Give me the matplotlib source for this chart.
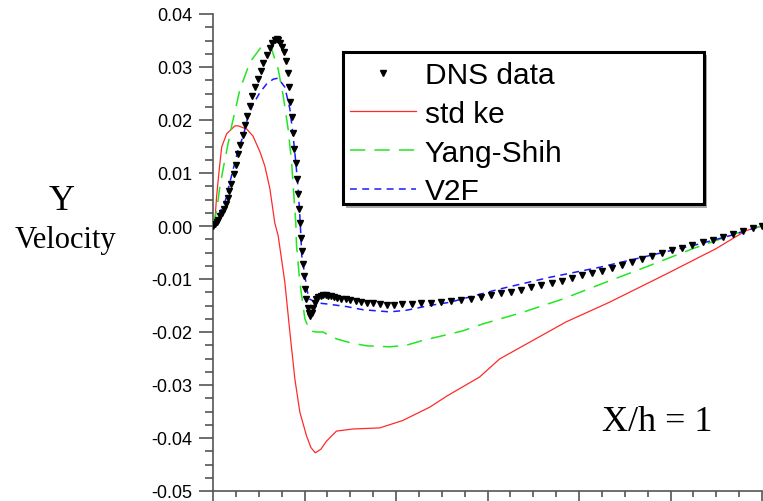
import matplotlib
matplotlib.use("Agg")
import matplotlib.pyplot as plt
from matplotlib.ticker import MultipleLocator, NullFormatter, FuncFormatter
from matplotlib.patches import Rectangle

# ---------------- data ----------------
dns_x = [0, 0.02, 0.04, 0.06, 0.08, 0.10, 0.12, 0.14, 0.16, 0.18, 0.20, 0.225, 0.25, 0.275,
         0.30, 0.325, 0.35, 0.375, 0.40, 0.43, 0.46, 0.49, 0.52, 0.55, 0.585, 0.62, 0.65,
         0.675, 0.695, 0.715, 0.735, 0.755, 0.775, 0.795, 0.815, 0.83, 0.845, 0.86, 0.875,
         0.89, 0.905, 0.92, 0.932, 0.944, 0.955, 0.965, 0.975, 0.985, 0.995, 1.008, 1.02,
         1.035, 1.05, 1.065, 1.08, 1.095, 1.11, 1.13, 1.15, 1.175, 1.20, 1.23, 1.26, 1.29,
         1.32, 1.36, 1.40, 1.45, 1.50, 1.56, 1.62, 1.68, 1.75, 1.82, 1.90, 1.98, 2.07, 2.17,
         2.27, 2.38, 2.49, 2.60, 2.71, 2.82, 2.93, 3.04, 3.15, 3.26, 3.37, 3.48, 3.59, 3.70,
         3.81, 3.92, 4.03, 4.14, 4.25, 4.36, 4.47, 4.58, 4.69, 4.80, 4.91, 5.02, 5.13, 5.24,
         5.35, 5.46, 5.57, 5.68, 5.79, 5.90, 6.0]
dns_y = [0, 0.0003, 0.0007, 0.0012, 0.0018, 0.0025, 0.0033, 0.0042, 0.0053, 0.0066, 0.0080,
         0.0099, 0.0116, 0.0135, 0.0153, 0.0172, 0.0190, 0.0208, 0.0226, 0.0245, 0.0262,
         0.0277, 0.0292, 0.0307, 0.0322, 0.0336, 0.0346, 0.0351, 0.0353, 0.0351, 0.0346,
         0.0338, 0.0328, 0.0312, 0.0288, 0.0262, 0.0234, 0.0205, 0.0175, 0.0146, 0.0118,
         0.0088, 0.0060, 0.0032, 0.0005, -0.0022, -0.0048, -0.0072, -0.0095, -0.0118,
         -0.0138, -0.0155, -0.0165, -0.0169, -0.0165, -0.0155, -0.0145, -0.0138, -0.0134,
         -0.0132, -0.0131, -0.0131, -0.0132, -0.0133, -0.0134, -0.0136, -0.0137, -0.0138,
         -0.0140, -0.0141, -0.0143, -0.0145, -0.0146, -0.0148, -0.0149, -0.0149, -0.0148,
         -0.0147, -0.0146, -0.0145, -0.0144, -0.0142, -0.0139, -0.0137, -0.0134, -0.0130,
         -0.0127, -0.0124, -0.0120, -0.0115, -0.0111, -0.0107, -0.0103, -0.0098, -0.0093,
         -0.0088, -0.0084, -0.0079, -0.0074, -0.0068, -0.0062, -0.0057, -0.0051, -0.0046,
         -0.0041, -0.0036, -0.0031, -0.0026, -0.0020, -0.0015, -0.0009, -0.0004, 0.0]

ske_x = [0, 0.022, 0.040, 0.069, 0.095, 0.149, 0.240, 0.273, 0.368, 0.436, 0.513, 0.567,
         0.622, 0.676, 0.712, 0.785, 0.840, 0.895, 0.949, 1.022, 1.070, 1.118, 1.180, 1.240,
         1.349, 1.527, 1.822, 2.073, 2.367, 2.564, 2.913, 3.131, 3.858, 4.331, 4.949, 5.495,
         5.822, 6.0]
ske_y = [0, 0.0013, 0.0057, 0.0108, 0.0149, 0.0174, 0.0189, 0.0189, 0.0183, 0.0170, 0.0140,
         0.0113, 0.0070, 0.0005, -0.0018, -0.0106, -0.0200, -0.0289, -0.0351, -0.0396,
         -0.0418, -0.0428, -0.0421, -0.0406, -0.0387, -0.0383, -0.0381, -0.0367, -0.0342,
         -0.0320, -0.0285, -0.0251, -0.0181, -0.0144, -0.0091, -0.0043, -0.0009, 0.0]

ys_x = [0, 0.040, 0.076, 0.131, 0.204, 0.295, 0.404, 0.549, 0.586, 0.640, 0.712, 0.767,
        0.821, 0.859, 0.884, 0.905, 0.913, 0.949, 1.004, 1.058, 1.131, 1.200, 1.349, 1.495,
        1.677, 1.931, 2.113, 2.291, 2.509, 2.727, 2.945, 3.382, 3.818, 4.295, 4.767, 5.240,
        5.604, 5.858, 6.0]
ys_y = [0, 0.0029, 0.0076, 0.0126, 0.0189, 0.0258, 0.0309, 0.0343, 0.0343, 0.0334, 0.0296,
        0.0246, 0.0183, 0.0120, 0.0057, 0.0005, -0.0037, -0.0106, -0.0175, -0.0198, -0.0200,
        -0.0200, -0.0213, -0.0220, -0.0226, -0.0228, -0.0225, -0.0216, -0.0207, -0.0198,
        -0.0185, -0.0163, -0.0138, -0.0106, -0.0075, -0.0043, -0.0021, -0.0006, 0.0]

v2f_x = [0, 0.076, 0.131, 0.185, 0.222, 0.276, 0.331, 0.385, 0.440, 0.513, 0.586, 0.658,
         0.712, 0.785, 0.840, 0.876, 0.905, 0.931, 0.949, 0.958, 0.970, 1.004, 1.040, 1.058,
         1.131, 1.240, 1.458, 1.640, 1.931, 2.113, 2.367, 2.585, 3.131, 3.676, 4.222, 4.767,
         5.313, 5.676, 5.858, 6.0]
v2f_y = [0, 0.0026, 0.0045, 0.0083, 0.0108, 0.0145, 0.0170, 0.0208, 0.0230, 0.0252, 0.0268,
         0.0277, 0.0279, 0.0262, 0.0221, 0.0170, 0.0120, 0.0070, 0.0019, -0.0010, -0.0056,
         -0.0094, -0.0132, -0.0138, -0.0145, -0.0147, -0.0152, -0.0158, -0.0162, -0.0159,
         -0.0150, -0.0144, -0.0119, -0.0097, -0.0078, -0.0056, -0.0034, -0.0017, -0.0007, 0.0]

series_labels = ["DNS data", "std ke", "Yang-Shih", "V2F"]
y_label_top = "Y"
y_label_bottom = "Velocity"
annotation = "X/h = 1"

# ---------------- figure ----------------
W, H = 763, 502
fig = plt.figure(figsize=(W / 100, H / 100), dpi=100)
ax = fig.add_axes([213 / W, 10 / H, (762 - 213) / W, (492 - 15) / H])

spine_col = "#555555"
ax.plot(ske_x, ske_y, color="#ff2a2a", lw=0.9, label=series_labels[1], zorder=3)
ax.plot(ys_x, ys_y, color="#22e622", lw=1.1, dashes=(10, 6), label=series_labels[2], zorder=3)
ax.plot(v2f_x, v2f_y, color="#1a1aff", lw=1.1, dashes=(4.5, 3.5), label=series_labels[3], zorder=3)
ax.plot(dns_x, dns_y, linestyle="none", marker="v", ms=4.4, color="black",
        mec="black", label=series_labels[0], zorder=4)

ax.set_xlim(0, 6)
ax.set_ylim(-0.05, 0.04)

for s in ["top", "right"]:
    ax.spines[s].set_visible(False)
for s in ["left", "bottom"]:
    ax.spines[s].set_color(spine_col)
    ax.spines[s].set_linewidth(1.2)

ax.xaxis.set_major_locator(MultipleLocator(1))
ax.xaxis.set_minor_locator(MultipleLocator(0.25))
ax.yaxis.set_major_locator(MultipleLocator(0.01))
ax.yaxis.set_minor_locator(MultipleLocator(0.0025))
ax.xaxis.set_major_formatter(NullFormatter())
ax.tick_params(axis="x", which="major", direction="out", length=7, width=1.2, color=spine_col,
               labelbottom=False)
ax.tick_params(axis="x", which="minor", direction="out", length=4, width=1.2, color=spine_col)
ax.tick_params(axis="y", which="major", direction="out", length=10, width=1.2, color=spine_col,
               pad=5, labelsize=13)
ax.tick_params(axis="y", which="minor", direction="out", length=6, width=1.2, color=spine_col)
ax.yaxis.set_major_formatter(FuncFormatter(lambda v, p: f"{v:.2f}".replace("-0.00", "0.00")))
for lab in ax.get_yticklabels():
    lab.set_fontfamily("Liberation Sans")

# legend
handles, labels = ax.get_legend_handles_labels()
order = [3, 0, 1, 2]
leg = fig.legend([handles[i] for i in order], [labels[i] for i in order],
                 loc="upper left", bbox_to_anchor=(350 / W, 1 - 62 / H),
                 frameon=False, prop={"family": "Liberation Sans", "size": 21.5},
                 handlelength=2.2, handletextpad=0.3, labelspacing=0.36,
                 borderpad=0.0, borderaxespad=0.0, markerscale=1.0)
# legend frame with shadow
fig.patches.append(Rectangle((346 / W, 1 - 209 / H), (707 - 346) / W, (209 - 56) / H,
                             transform=fig.transFigure, facecolor="#aaaaaa", edgecolor="none",
                             zorder=5))
fig.patches.append(Rectangle((343 / W, 1 - 205 / H), (704 - 343) / W, (205 - 53) / H,
                             transform=fig.transFigure, facecolor="white", edgecolor="black",
                             linewidth=2.2, zorder=6))
leg.set_zorder(10)

fig.text(62 / W, 1 - 210 / H, y_label_top, family="Liberation Serif", fontsize=26,
         ha="center", va="baseline")
fig.text(65 / W, 1 - 248 / H, y_label_bottom, family="Liberation Serif", fontsize=22,
         ha="center", va="baseline")
fig.text(602 / W, 1 - 431 / H, annotation, family="Liberation Serif", fontsize=26,
         ha="left", va="baseline")

fig.savefig("out.png", dpi=100)
